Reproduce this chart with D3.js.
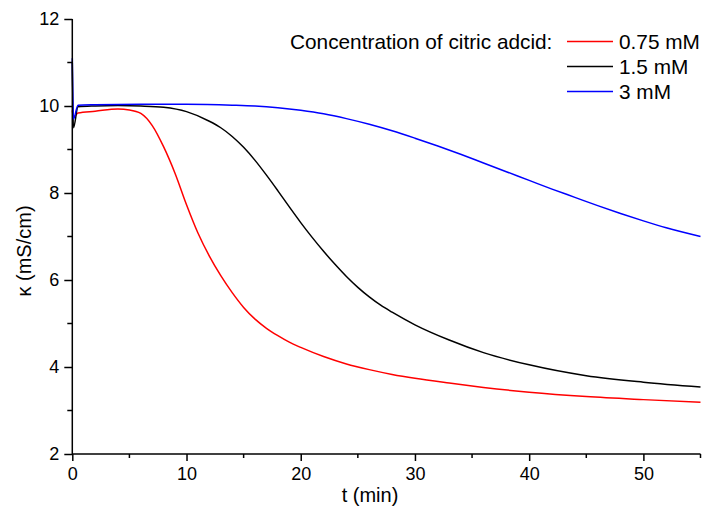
<!DOCTYPE html>
<html><head><meta charset="utf-8">
<script src="https://cdn.jsdelivr.net/npm/d3@7"></script>
<style>
html,body{margin:0;padding:0;background:#fff;}
svg{display:block;font-family:"Liberation Sans",Arial,sans-serif;}
</style></head>
<body><svg id="c" width="702" height="508"></svg>
<script>
const seriesNames = ["0.75 mM", "1.5 mM", "3 mM"];
const seriesColors = ["#ff0000", "#000000", "#0000ff"];
const legendTitle = "Concentration of citric adcid:";
const xTicks = [0, 10, 20, 30, 40, 50];
const yTicks = [2, 4, 6, 8, 10, 12];

const tRed = [0, 0.1, 0.5, 2, 4, 5, 6, 7, 8, 9, 10, 11, 12, 13, 14, 15, 16, 17, 18, 19, 20, 22, 24, 26, 28, 30, 33, 36, 40, 45, 50, 55];
const vRed = [9.9, 9.75, 9.84, 9.88, 9.93, 9.91, 9.83, 9.55, 9.06, 8.45, 7.73, 7.08, 6.55, 6.1, 5.71, 5.37, 5.1, 4.89, 4.72, 4.57, 4.45, 4.24, 4.07, 3.94, 3.83, 3.74, 3.63, 3.53, 3.42, 3.32, 3.25, 3.19];

const tBlack = [0, 0.1, 0.5, 2, 4, 6, 8, 10, 12, 13, 14, 15, 16, 17, 18, 19, 20, 21, 22, 23, 24, 25, 26, 27, 28, 30, 33, 36, 40, 45, 50, 55];
const vBlack = [11.0, 9.5, 9.98, 10.0, 10.01, 10.0, 9.97, 9.87, 9.65, 9.5, 9.3, 9.05, 8.75, 8.41, 8.05, 7.68, 7.32, 6.98, 6.66, 6.36, 6.08, 5.83, 5.61, 5.42, 5.26, 4.97, 4.62, 4.33, 4.05, 3.8, 3.65, 3.54];

const tBlue = [0, 0.1, 0.5, 2, 6, 10, 14, 16, 18, 20, 22, 24, 26, 28, 30, 32, 34, 36, 38, 40, 42, 44, 46, 48, 50, 52, 55];
const vBlue = [11.1, 9.7, 10.02, 10.03, 10.04, 10.04, 10.02, 10.0, 9.96, 9.9, 9.82, 9.71, 9.58, 9.43, 9.26, 9.08, 8.89, 8.69, 8.49, 8.29, 8.09, 7.9, 7.71, 7.53, 7.36, 7.2, 7.0];

const series = [
  {t: tRed, v: vRed},
  {t: tBlack, v: vBlack},
  {t: tBlue, v: vBlue}
];

const svg = d3.select("#c");
const x = d3.scaleLinear().domain([0, 55]).range([72.3, 700.5]);
const y = d3.scaleLinear().domain([2, 12]).range([454, 19]);

const g = svg.append("g");

// lines
const line = d3.line().x(d => x(d[0])).y(d => y(d[1])).curve(d3.curveMonotoneX);
series.forEach((s, i) => {
  g.append("path")
    .datum(s.t.map((t, j) => [t, s.v[j]]))
    .attr("fill", "none")
    .attr("stroke", seriesColors[i])
    .attr("stroke-width", 1.5)
    .attr("d", line);
});

// axes
const xMinor = d3.range(5, 56, 10);
const yMinor = d3.range(3, 12, 2);

const xAxis = g.append("g").attr("transform", `translate(0,${y(2)})`)
  .call(d3.axisBottom(x).tickValues(xTicks).tickSize(7).tickPadding(6).tickFormat(d3.format("d")));
xAxis.append("g").selectAll("line").data(xMinor).join("line")
  .attr("x1", d => x(d)).attr("x2", d => x(d)).attr("y1", 0).attr("y2", 4)
  .attr("stroke", "#000").attr("stroke-width", 1.5);

const yAxis = g.append("g").attr("transform", `translate(${x(0)},0)`)
  .call(d3.axisLeft(y).tickValues(yTicks).tickSize(8).tickPadding(5).tickFormat(d3.format("d")));
yAxis.append("g").selectAll("line").data(yMinor).join("line")
  .attr("y1", d => y(d)).attr("y2", d => y(d)).attr("x1", 0).attr("x2", -5)
  .attr("stroke", "#000").attr("stroke-width", 1.5);

[xAxis, yAxis].forEach(a => {
  a.select(".domain").attr("stroke", "#000").attr("stroke-width", 1.5);
  a.selectAll(".tick line").attr("stroke", "#000").attr("stroke-width", 1.5);
  a.selectAll("text").attr("font-size", 18).attr("fill", "#000").attr("font-family", "Liberation Sans, Arial, sans-serif");
});
xAxis.select(".domain").attr("d", `M${x(0)},0H${x(55)}`);
yAxis.select(".domain").attr("d", `M0,${y(2)}V${y(12)}`);

// axis titles
svg.append("text").attr("x", 370).attr("y", 502).attr("text-anchor", "middle")
  .attr("font-size", 20).text("t (min)");
svg.append("text").attr("transform", "translate(31,251) rotate(-90)").attr("text-anchor", "middle")
  .attr("font-size", 20).text("κ (mS/cm)");

// legend
const legY = [41.5, 66.5, 91.5];
svg.append("text").attr("x", 290).attr("y", legY[0] + 7).attr("font-size", 20.8).text(legendTitle);
seriesNames.forEach((n, i) => {
  svg.append("line").attr("x1", 567).attr("x2", 613).attr("y1", legY[i]).attr("y2", legY[i])
    .attr("stroke", seriesColors[i]).attr("stroke-width", 1.5);
  svg.append("text").attr("x", 619).attr("y", legY[i] + 7).attr("font-size", 20.8).text(n);
});
</script></body></html>
